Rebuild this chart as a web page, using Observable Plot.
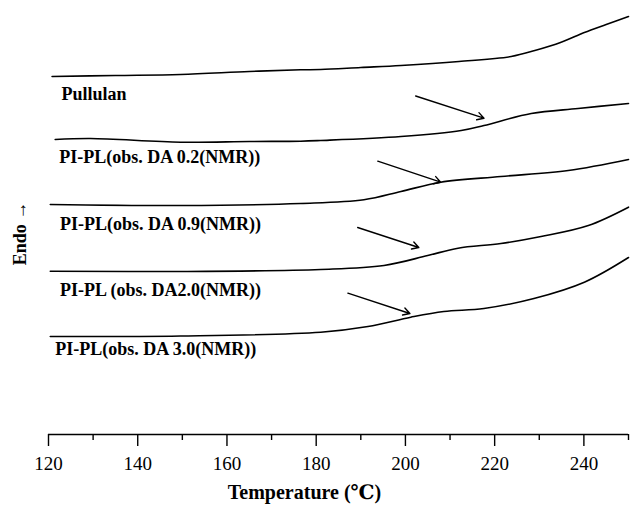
<!DOCTYPE html>
<html>
<head>
<meta charset="utf-8">
<script src="https://cdn.jsdelivr.net/npm/d3@7"></script>
<script src="https://cdn.jsdelivr.net/npm/@observablehq/plot@0.6"></script>
<style>
  html, body { margin: 0; padding: 0; background: #fff; }
  #chart { width: 630px; height: 507px; }
</style>
</head>
<body>
<div id="chart"></div>
<script>
// Temperatures (°C) and relative heat flow (arbitrary units, Endo up)
const tPullulan = [120.8, 135, 149.6, 165, 176.5, 181.0, 190, 199.0, 212, 223.7, 229, 234.9, 240.1, 245, 250];
const hPullulan = [35.8, 35.9, 36.0, 36.3, 36.47, 36.5, 36.7, 36.9, 37.3, 37.8, 38.4, 39.23, 40.2, 41.0, 41.8];

const tDA02 = [121.5, 129.4, 149.6, 165, 176.5, 181.0, 199.0, 212.5, 217.6, 228.2, 238.7, 250];
const hDA02 = [29.5, 29.6, 29.23, 29.3, 29.33, 29.4, 29.8, 30.4, 30.9, 32.1, 32.6, 33.1];

const tDA09 = [120.4, 149.6, 176.5, 190.7, 199.0, 207.9, 221.4, 236.5, 250];
const hDA09 = [23.0, 22.9, 23.1, 23.47, 24.3, 25.23, 25.8, 26.4, 27.5];

const tDA20 = [120.4, 149.6, 181.0, 195.2, 205.0, 211.8, 221.4, 230.4, 241.0, 250];
const hDA20 = [16.33, 16.3, 16.5, 16.9, 17.9, 18.63, 19.1, 19.8, 20.9, 22.73];

const tDA30 = [120.4, 149.6, 181.0, 191.6, 201.2, 208.6, 217.6, 228.8, 240.1, 250];
const hDA30 = [9.8, 9.85, 10.23, 10.8, 11.73, 12.3, 12.6, 13.6, 15.23, 17.7];

// Sample labels
const sampleNames = ["Pullulan", "PI-PL(obs. DA 0.2(NMR))", "PI-PL(obs. DA 0.9(NMR))", "PI-PL (obs. DA2.0(NMR))", "PI-PL(obs. DA 3.0(NMR))"];
const labelT = [122.9, 122.4, 122.6, 122.6, 121.5];
const labelH = [34.0, 27.7, 21.0, 14.4, 8.5];

// Arrows pointing at the glass transitions
const arrowT1 = [202.3, 193.8, 189.3, 187.1];
const arrowH1 = [33.85, 27.33, 20.7, 14.13];
const arrowT2 = [217.6, 207.9, 203.0, 201.0];
const arrowH2 = [31.63, 25.23, 18.7, 12.1];

// Axis ticks
const majorTicks = [120, 140, 160, 180, 200, 220, 240];
const minorTicks = [130, 150, 170, 190, 210, 230, 250];
const xTitle = "Temperature (℃)";
const yTitle = "Endo →";
const yTitleH = 20.1;

const seriesT = [tPullulan, tDA02, tDA09, tDA20, tDA30];
const seriesH = [hPullulan, hDA02, hDA09, hDA20, hDA30];
const traces = seriesT.flatMap((ts, i) => ts.map((t, j) => ({sample: sampleNames[i], t, h: seriesH[i][j]})));
const labels = sampleNames.map((name, i) => ({name, t: labelT[i], h: labelH[i]}));
const arrows = arrowT1.map((t, i) => ({t1: t, h1: arrowH1[i], t2: arrowT2[i], h2: arrowH2[i]}));

const serif = "'Liberation Serif', 'Times New Roman', 'DejaVu Serif', serif";

const chart = Plot.plot({
  width: 630,
  height: 507,
  marginLeft: 48,
  marginRight: 2,
  marginTop: 0,
  marginBottom: 73,
  style: {fontFamily: serif, color: "#000", background: "#fff", overflow: "visible"},
  x: {domain: [120, 250], axis: null},
  y: {domain: [0, 43.4], axis: null},
  marks: [
    Plot.ruleY([0], {x1: 120, x2: 250, stroke: "#000", strokeWidth: 1.5}),
    Plot.axisX({ticks: majorTicks, tickSize: 12, tickPadding: 10, fontSize: 19, label: null, tickFormat: d => String(d), stroke: "#000", strokeWidth: 1.4, fill: "#000"}),
    Plot.axisX({ticks: minorTicks, tickSize: 6, text: null, label: null, stroke: "#000", strokeWidth: 1.4}),
    Plot.line(traces, {x: "t", y: "h", z: "sample", stroke: "#000", strokeWidth: 1.6, curve: "catmull-rom"}),
    Plot.arrow(arrows, {x1: "t1", y1: "h1", x2: "t2", y2: "h2", stroke: "#000", strokeWidth: 1.4, headLength: 8, bend: 0}),
    Plot.text(labels, {x: "t", y: "h", text: "name", textAnchor: "start", fontSize: 18, fontWeight: "bold", fill: "#000"}),
    Plot.text([xTitle], {frameAnchor: "bottom", dx: -34, dy: 64, fontSize: 20, fontWeight: "bold", fill: "#000"}),
    Plot.text([{label: yTitle, h: yTitleH}], {y: "h", text: "label", frameAnchor: "left", textAnchor: "middle", dx: -28, rotate: -90, fontSize: 18, fontWeight: "bold", fill: "#000"})
  ]
});
document.getElementById("chart").appendChild(chart);
</script>
</body>
</html>
